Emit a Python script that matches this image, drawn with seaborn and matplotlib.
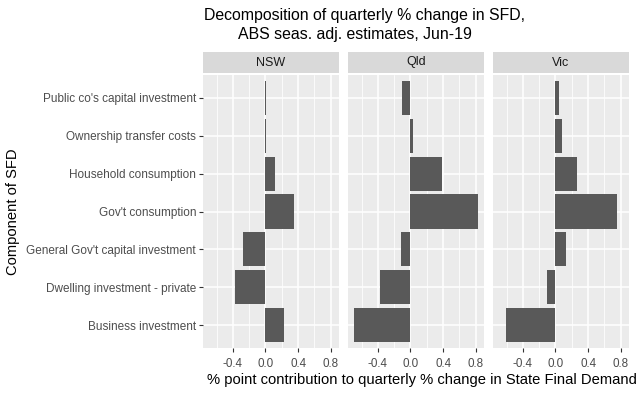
import matplotlib
matplotlib.use("Agg")
import matplotlib.pyplot as plt
import seaborn as sns
import pandas as pd
import numpy as np

components = [
    "Public co's capital investment",
    "Ownership transfer costs",
    "Household consumption",
    "Gov't consumption",
    "General Gov't capital investment",
    "Dwelling investment - private",
    "Business investment",
]
states = ["NSW", "Qld", "Vic"]
nsw_values = [0.003, 0.012, 0.12, 0.35, -0.275, -0.37, 0.23]
qld_values = [-0.105, 0.028, 0.38, 0.825, -0.115, -0.37, -0.69]
vic_values = [0.044, 0.076, 0.264, 0.748, 0.128, -0.10, -0.605]
x_ticks = [-0.4, 0.0, 0.4, 0.8]
x_tick_labels = ["-0.4", "0.0", "0.4", "0.8"]

df = pd.DataFrame({
    "state": np.repeat(states, len(components)),
    "component": components * 3,
    "value": nsw_values + qld_values + vic_values,
})

sns.set_theme(style="white")
plt.rcParams["font.family"] = ["Liberation Sans", "DejaVu Sans"]
plt.rcParams["axes.unicode_minus"] = False

W, H = 640, 393
fig = plt.figure(figsize=(6.4, 3.93), dpi=100)

left0, pw, gap = 203, 136, 9
ptop, pbot = 75, 348
stop, sbot = 52, 73

vmin, vmax = df["value"].min(), df["value"].max()
pad = (vmax - vmin) * 0.05
xlim = (vmin - pad, vmax + pad)

for i, st in enumerate(states):
    x0 = left0 + i * (pw + gap)
    ax = fig.add_axes([x0 / W, 1 - pbot / H, pw / W, (pbot - ptop) / H])
    ax.set_facecolor("#EBEBEB")
    for s in ax.spines.values():
        s.set_visible(False)
    sub = df[df["state"] == st]
    sns.barplot(data=sub, x="value", y="component", order=components, orient="h",
                color="#595959", saturation=1, width=0.9, linewidth=0,
                edgecolor="none", ax=ax, zorder=3)
    ax.set_xlim(xlim)
    ax.set_ylim(len(components) - 0.4, -0.6)
    ax.set_xticks(x_ticks)
    ax.set_xticklabels(x_tick_labels)
    ax.set_xticks([-0.6, -0.2, 0.2, 0.6], minor=True)
    ax.grid(True, which="major", color="white", lw=1.1, zorder=0)
    ax.grid(True, which="minor", axis="x", color="white", lw=0.55, zorder=0)
    ax.set_axisbelow(True)
    ax.set_xlabel("")
    ax.set_ylabel("")
    ax.tick_params(axis="x", which="major", length=3, width=0.8, color="#333333",
                   labelsize=8.4, labelcolor="#4D4D4D", pad=4, bottom=True)
    ax.tick_params(axis="x", which="minor", length=0)
    if i == 0:
        ax.tick_params(axis="y", length=3, width=0.8, color="#333333",
                       labelsize=8.5, labelcolor="#4D4D4D", pad=2, left=True)
    else:
        ax.tick_params(axis="y", left=False, labelleft=False)
    sax = fig.add_axes([x0 / W, 1 - sbot / H, pw / W, (sbot - stop) / H])
    sax.set_facecolor("#D9D9D9")
    sax.set_xticks([])
    sax.set_yticks([])
    for s in sax.spines.values():
        s.set_visible(False)
    sax.text(0.5, 0.5, st, ha="center", va="center", fontsize=9, color="#1A1A1A",
             transform=sax.transAxes)

fig.text(204 / W, 1 - 20 / H, "Decomposition of quarterly % change in SFD,",
         ha="left", va="baseline", fontsize=11.4, color="black")
fig.text(238 / W, 1 - 39 / H, "ABS seas. adj. estimates, Jun-19",
         ha="left", va="baseline", fontsize=11.4, color="black")
fig.text(422 / W, 1 - 380 / H,
         "% point contribution to quarterly % change in State Final Demand",
         ha="center", va="center", fontsize=10.6, color="black")
fig.text(13 / W, 1 - ((ptop + pbot) / 2) / H, "Component of SFD", rotation=90,
         ha="center", va="center", fontsize=10.6, color="black")

fig.savefig("out.png", dpi=100, facecolor="white")
